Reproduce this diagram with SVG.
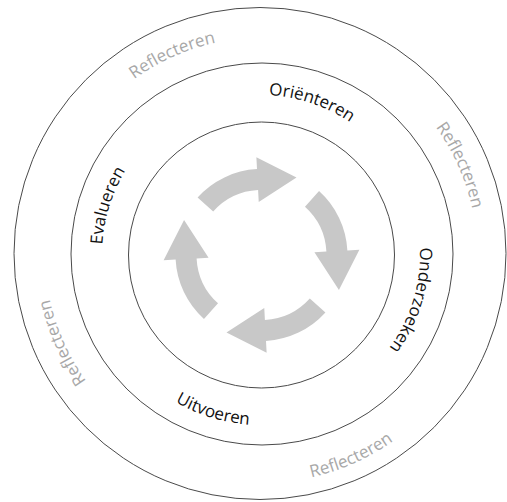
<svg xmlns="http://www.w3.org/2000/svg" xmlns:xlink="http://www.w3.org/1999/xlink" width="507" height="502" viewBox="0 0 507 502">
<style>
.ring{fill:none;stroke:#4a4a4a;stroke-width:1}
.lbl{font-family:"Open Sans","Liberation Sans",sans-serif;font-size:17px;fill:#111}
.refl{font-family:"Open Sans","Liberation Sans",sans-serif;font-size:17px;fill:#a8a8a8}
.arr{fill:#c8c8c8}
</style>
<defs>
<path id="cw159" d="M261,413 A159,159 0 1 1 261,95 A159,159 0 1 1 261,413"/>
<path id="ccw171" d="M261,83 A171,171 0 1 0 261,425 A171,171 0 1 0 261,83"/>
<path id="cw216" d="M261,470 A216,216 0 1 1 261,38 A216,216 0 1 1 261,470"/>
<path id="ccw229" d="M261,25 A229,229 0 1 0 261,483 A229,229 0 1 0 261,25"/>
<path id="arrow" class="arr" d="M57.55,-63.91 A86,86 0 0 1 85.88,-4.50 L97.87,-5.13 L77.44,35.00 L52.93,-2.77 L64.91,-3.40 A65,65 0 0 0 43.49,-48.30 Z"/>
</defs>
<g id="outer-ring">
<circle class="ring" cx="260" cy="253.5" r="246"/>
<g transform="rotate(-24 261 254)"><text class="refl"><textPath href="#cw216" startOffset="50%" text-anchor="middle">Reflecteren</textPath></text></g>
<g transform="rotate(66 261 254)"><text class="refl"><textPath href="#cw216" startOffset="50%" text-anchor="middle">Reflecteren</textPath></text></g>
<g transform="rotate(-24 261 254)"><text class="refl"><textPath href="#ccw229" startOffset="50%" text-anchor="middle">Reflecteren</textPath></text></g>
<g transform="rotate(246 261 254)"><text class="refl"><textPath href="#cw216" startOffset="50%" text-anchor="middle">Reflecteren</textPath></text></g>
</g>
<g id="middle-ring">
<circle class="ring" cx="262" cy="254" r="191"/>
<g transform="rotate(18.5 261 254)"><text class="lbl"><textPath href="#cw159" startOffset="50%" text-anchor="middle">Oriënteren</textPath></text></g>
<g transform="rotate(107 261 254)"><text class="lbl"><textPath href="#cw159" startOffset="50%" text-anchor="middle">Onderzoeken</textPath></text></g>
<g transform="rotate(17 261 254)"><text class="lbl"><textPath href="#ccw171" startOffset="50%" text-anchor="middle">Uitvoeren</textPath></text></g>
<g transform="rotate(287.5 261 254)"><text class="lbl"><textPath href="#cw159" startOffset="50%" text-anchor="middle">Evalueren</textPath></text></g>
</g>
<g id="inner-ring">
<circle class="ring" cx="261.5" cy="255" r="133"/>
</g>
<g id="cycle-arrows">
<use href="#arrow" transform="translate(261.5 255)"/>
<use href="#arrow" transform="translate(261.5 255) rotate(90)"/>
<use href="#arrow" transform="translate(261.5 255) rotate(180)"/>
<use href="#arrow" transform="translate(261.5 255) rotate(270)"/>
</g>
</svg>
